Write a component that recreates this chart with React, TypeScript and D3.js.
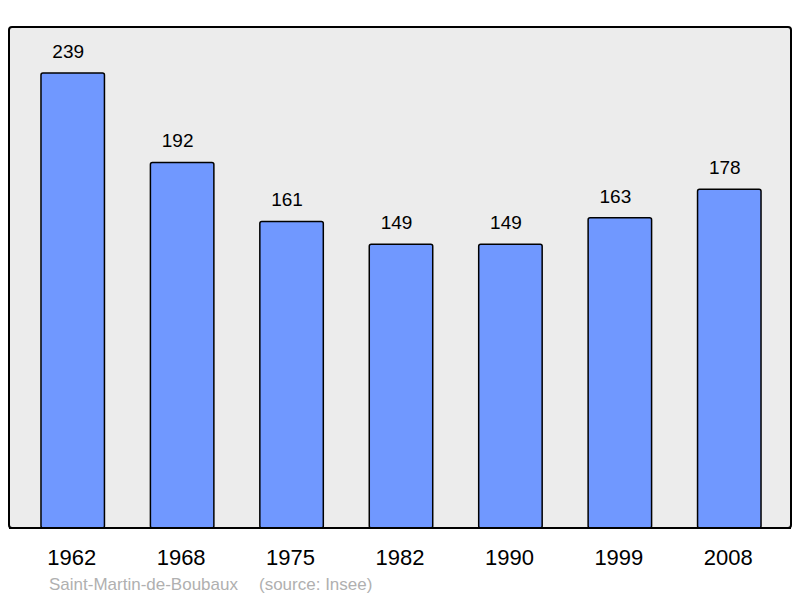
import * as d3 from "d3";
import React from "react";

const years = ["1962", "1968", "1975", "1982", "1990", "1999", "2008"];
const population = [239, 192, 161, 149, 149, 163, 178];
const commune = "Saint-Martin-de-Boubaux";
const source = "(source: Insee)";

const width = 800,
    height = 598;
const panel = { left: 9, top: 27, right: 791, bottom: 528 };

const App = () => {
    const x = d3.scaleBand()
        .domain(years)
        .range([18, 784])
        .paddingInner(0.42)
        .paddingOuter(0.21);

    const y = d3.scaleLinear()
        .domain([0, 239])
        .range([panel.bottom, 73]);

    const font = "'Liberation Sans', Arial, sans-serif";

    return (
        <svg width={width} height={height}
            style={{ position: "absolute", left: 0, top: 0 }}>
            <rect x={panel.left} y={panel.top}
                width={panel.right - panel.left} height={panel.bottom - panel.top}
                rx={3} fill="#ececec" stroke="#000" strokeWidth={2} />
            {population.map((v, i) => {
                const cx = (x(years[i]) as number) + x.bandwidth() / 2;
                return (
                    <g key={years[i]}>
                        <rect
                            x={x(years[i])}
                            y={y(v)}
                            width={x.bandwidth()}
                            height={panel.bottom - y(v)}
                            rx={2}
                            fill="#7098ff"
                            stroke="#000"
                            strokeWidth={1.5} />
                        <text x={cx - 4.5} y={y(v) - 15}
                            textAnchor="middle" fontFamily={font} fontSize={19}
                            fill="#000">{v}</text>
                        <text x={cx - 1} y={565}
                            textAnchor="middle" fontFamily={font} fontSize={22}
                            fill="#000">{years[i]}</text>
                    </g>
                );
            })}
            <text x={49} y={590} fontFamily={font} fontSize={17} fill="#b0b0b0">{commune}</text>
            <text x={259} y={590} fontFamily={font} fontSize={17} fill="#b0b0b0">{source}</text>
            {/* redraw the bottom border over the bars */}
            <line x1={panel.left} x2={panel.right} y1={panel.bottom} y2={panel.bottom}
                stroke="#000" strokeWidth={2} />
        </svg>
    );
};

export default App;
